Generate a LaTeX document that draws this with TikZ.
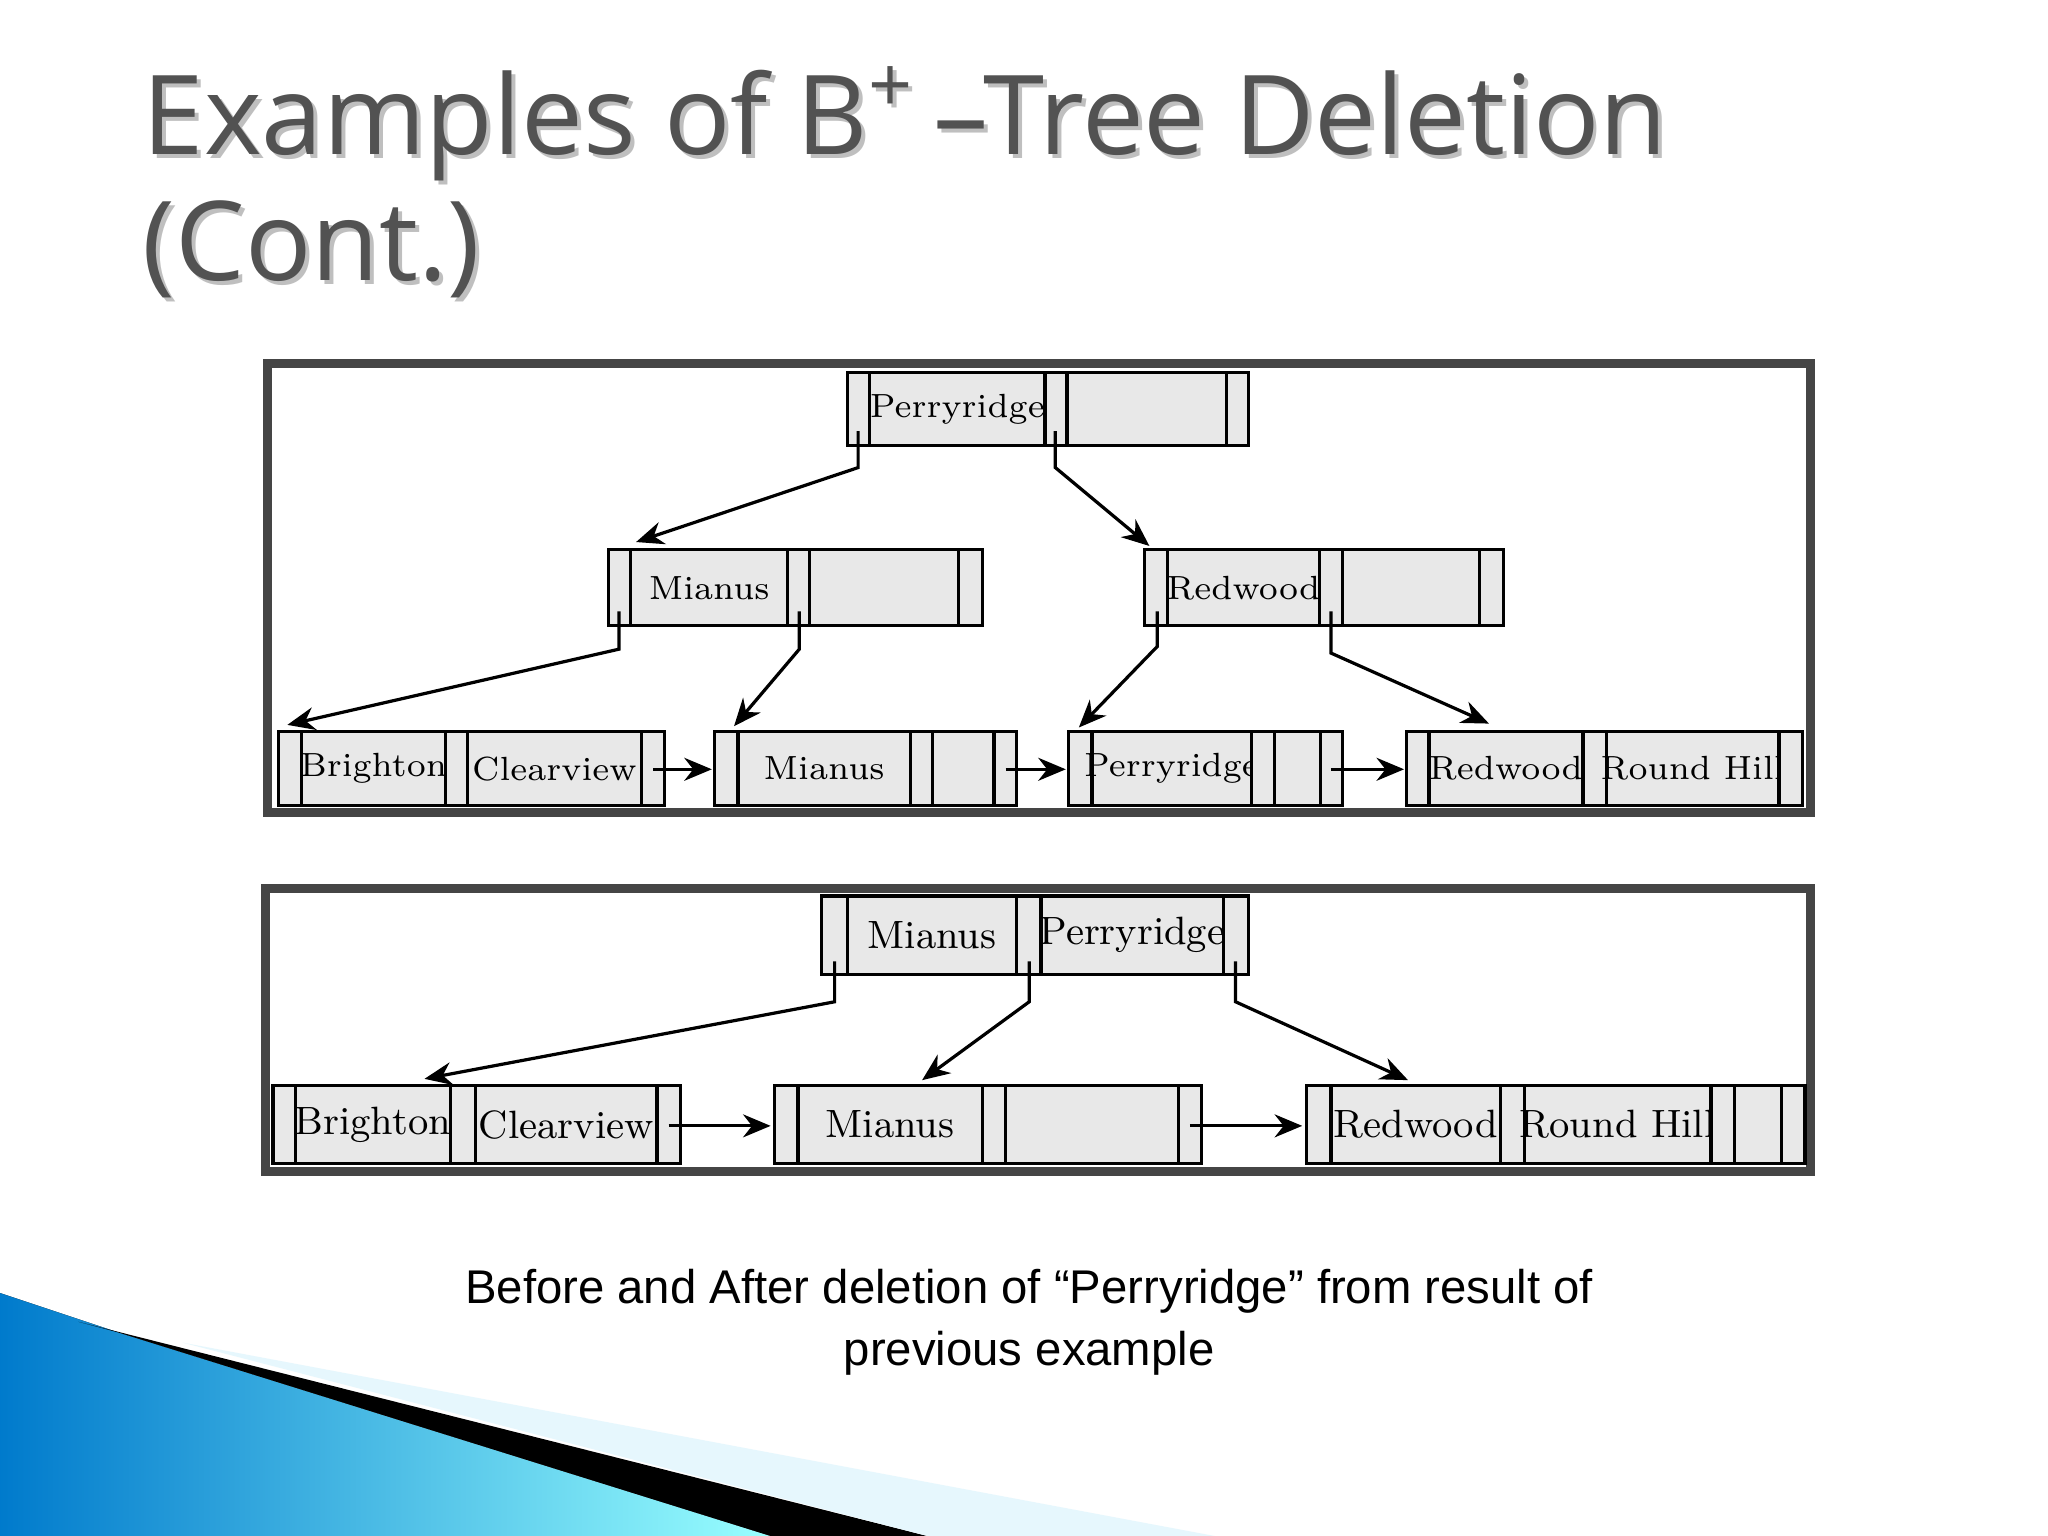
\documentclass[tikz,border=0pt]{standalone}
\usepackage{fontspec}
\newfontfamily\titlefont{Open Sans}
\newfontfamily\capfont{Liberation Sans}
\usetikzlibrary{arrows.meta}
\definecolor{cellfill}{HTML}{E8E8E8}
\definecolor{framec}{HTML}{454545}
\tikzset{cellbox/.style={draw=black,fill=cellfill,line width=0.7pt},
 lnk/.style={draw=black,line width=0.7pt,-{Stealth[length=6pt,width=5pt]}},
 frm/.style={draw=framec,line width=2pt,fill=white}}
% \cells{y1}{y2}{fontsize}{x0/x1/text,...}
\newcommand{\cellrow}[4]{\foreach \a/\b/\t in {#4}{\draw[cellbox] (\a,#1) rectangle (\b,#2); \node[font=#3] at ({(\a+\b)/2},{(#1+#2)/2}) {\t};}}
\begin{document}
\begin{tikzpicture}[x=0.01cm,y=-0.01cm]
\useasboundingbox (0,0) rectangle (1568,1176);
\fill[white] (0,0) rectangle (1568,1176);
% decoration
\fill[left color=cyan!60!blue!80!black, right color=cyan!40!white] (0,990) -- (90,1020) -- (590,1176) -- (0,1176) -- cycle;
\fill[black] (60,1012) -- (710,1176) -- (590,1176) -- (90,1020) -- cycle;
\fill[cyan!10!white] (140,1028) -- (930,1176) -- (710,1176) -- cycle;
% title
\node[anchor=base west,font=\titlefont\fontsize{24pt}{28pt}\selectfont,text=black!25] at (100,121) {Examples of B\textsuperscript{+}\,–Tree Deletion};
\node[anchor=base west,font=\titlefont\fontsize{24pt}{28pt}\selectfont,text=black!25] at (100,218) {(Cont.)};
\node[anchor=base west,font=\titlefont\fontsize{24pt}{28pt}\selectfont,text=black!68] (t1) at (97,118) {Examples of B\textsuperscript{+}\,–Tree Deletion};
\node[anchor=base west,font=\titlefont\fontsize{24pt}{28pt}\selectfont,text=black!68] (t2) at (97,215) {(Cont.)};
% frames
\draw[frm] (205,278) rectangle (1386,622);
\draw[frm] (203,680) rectangle (1386,897);
\def\fa{\fontsize{7.3pt}{9pt}\selectfont}
\def\fb{\fontsize{8.6pt}{10pt}\selectfont}
% top panel
\cellrow{285}{341}{\fa}{649/666/,666/800/Perryridge,800/817/,817/939/,939/956/}
\cellrow{421}{479}{\fa}{466/483/,483/603/Mianus,603/620/,620/734/,734/752/}
\cellrow{421}{479}{\fa}{876/894/,894/1010/Redwood,1010/1028/,1028/1133/,1133/1151/}
\cellrow{560}{617}{\fa}{213/231/,231/341/Brighton,341/358/,358/491/Clearview,491/509/}
\cellrow{560}{617}{\fa}{547/565/,565/697/Mianus,697/714/,714/761/,761/778/}
\cellrow{560}{617}{\fa}{818/836/,836/958/Perryridge,958/976/,976/1011/,1011/1028/}
\cellrow{560}{617}{\fa}{1077/1094/,1094/1212/Redwood,1212/1230/,1230/1362/Round Hill,1362/1380/}
\coordinate (r1) at (657,330); \coordinate (r2) at (808,330);
\coordinate (m1) at (474,468); \coordinate (m2) at (612,468);
\coordinate (w1) at (886,468); \coordinate (w2) at (1019,468);
\coordinate (l1) at (220,555); \coordinate (l2) at (562,556);
\coordinate (l3) at (826,557); \coordinate (l4) at (1140,554);
\coordinate (mi) at (487,415); \coordinate (re) at (880,418);
\draw[lnk] (r1) -- (657,358) -- (mi);
\draw[lnk] (r2) -- (808,358) -- (re);
\draw[lnk] (m1) -- (474,497) -- (l1);
\draw[lnk] (m2) -- (612,497) -- (l2);
\draw[lnk] (w1) -- (886,495) -- (l3);
\draw[lnk] (w2) -- (1019,500) -- (l4);
\coordinate (a1) at (500,589); \coordinate (b1) at (545,589);
\coordinate (a2) at (770,589); \coordinate (b2) at (816,589);
\coordinate (a3) at (1019,589); \coordinate (b3) at (1075,589);
\draw[lnk] (a1) -- (b1); \draw[lnk] (a2) -- (b2); \draw[lnk] (a3) -- (b3);
% bottom panel
\cellrow{686}{746}{\fb}{629/649/,649/778/Mianus,778/797/,797/937/Perryridge,937/956/}
\cellrow{831}{891}{\fb}{209/226/,226/345/Brighton,345/364/,364/503/Clearview,503/521/}
\cellrow{831}{891}{\fb}{593/611/,611/752/Mianus,752/770/,770/902/,902/920/}
\cellrow{831}{891}{\fb}{1000/1019/,1019/1149/Redwood,1149/1167/,1167/1310/Round Hill,1310/1328/,1328/1364/,1364/1382/}
\coordinate (p1) at (639,736); \coordinate (p2) at (788,736); \coordinate (p3) at (946,736);
\coordinate (q1) at (325,826); \coordinate (q2) at (706,827); \coordinate (q3) at (1078,827);
\draw[lnk] (p1) -- (639,767) -- (q1);
\draw[lnk] (p2) -- (788,767) -- (q2);
\draw[lnk] (p3) -- (946,767) -- (q3);
\coordinate (c1) at (512,862); \coordinate (d1) at (590,862);
\coordinate (c2) at (911,862); \coordinate (d2) at (997,862);
\draw[lnk] (c1) -- (d1); \draw[lnk] (c2) -- (d2);
% caption
\node[font=\capfont\fontsize{10.3pt}{13.5pt}\selectfont,align=center] (cap) at (788,1012) {Before and After deletion of “Perryridge” from result of\\previous example};
\end{tikzpicture}
\end{document}
